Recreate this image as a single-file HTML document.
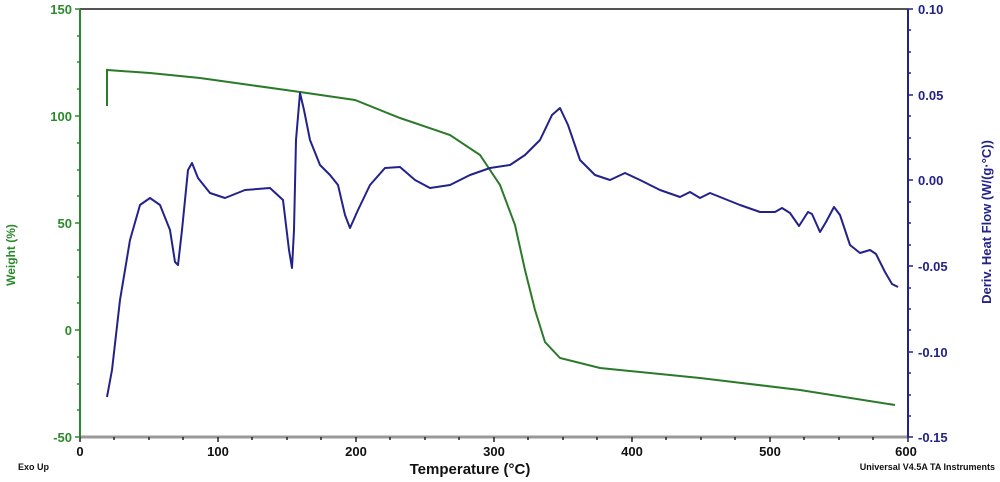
<!DOCTYPE html>
<html><head><style>body{margin:0;background:#fff}svg{display:block}</style></head><body>
<svg width="1000" height="482" viewBox="0 0 1000 482" font-family="Liberation Sans, sans-serif" font-weight="bold">
<line x1="80" y1="9" x2="908" y2="9" stroke="#555" stroke-width="2"/>
<line x1="80" y1="437" x2="908" y2="437" stroke="#999" stroke-width="3"/>
<line x1="80" y1="9" x2="80" y2="437" stroke="#2a8a2a" stroke-width="2"/>
<line x1="908" y1="9" x2="908" y2="437" stroke="#22228a" stroke-width="2"/>
<g stroke="#222" stroke-width="1.5">
<path d="M80,437v5M114,437v3M149,437v3M183,437v3M218,437v5M252,437v3M287,437v3M321,437v3M356,437v5M390,437v3M425,437v3M459,437v3M494,437v5M528,437v3M563,437v3M597,437v3M632,437v5M666,437v3M701,437v3M735,437v3M770,437v5M804,437v3M839,437v3M873,437v3M908,437v5"/>
</g>
<g stroke="#2a8a2a" stroke-width="1.5"><path d="M80,9h-5M80,116h-5M80,223h-5M80,330h-5M80,437h-5M80,36h-3M80,62h-3M80,89h-3M80,143h-3M80,170h-3M80,196h-3M80,250h-3M80,277h-3M80,303h-3M80,357h-3M80,384h-3M80,410h-3"/></g>
<g stroke="#22228a" stroke-width="1.5"><path d="M908,9h5M908,95h5M908,180h5M908,266h5M908,352h5M908,437h5M908,30h3M908,52h3M908,73h3M908,116h3M908,138h3M908,159h3M908,202h3M908,223h3M908,245h3M908,288h3M908,309h3M908,330h3M908,373h3M908,395h3M908,416h3"/></g>
<g fill="#2a8a2a" font-size="13" text-anchor="end">
<text x="72" y="14">150</text><text x="72" y="121">100</text><text x="72" y="228">50</text><text x="72" y="335">0</text><text x="72" y="442">-50</text>
</g>
<g fill="#22228a" font-size="13">
<text x="918" y="14">0.10</text><text x="918" y="100">0.05</text><text x="918" y="185">0.00</text><text x="918" y="271">-0.05</text><text x="918" y="357">-0.10</text><text x="918" y="442">-0.15</text>
</g>
<g fill="#111" font-size="13" text-anchor="middle">
<text x="80" y="456">0</text><text x="218" y="456">100</text><text x="356" y="456">200</text><text x="494" y="456">300</text><text x="632" y="456">400</text><text x="770" y="456">500</text><text x="906" y="456">600</text>
</g>
<text x="470" y="474" font-size="15" fill="#111" text-anchor="middle">Temperature (°C)</text>
<text x="18" y="470" font-size="9" fill="#111">Exo Up</text>
<text x="995" y="470" font-size="9" fill="#111" text-anchor="end">Universal V4.5A TA Instruments</text>
<text transform="translate(15,255) rotate(-90)" font-size="12" fill="#2a8a2a" text-anchor="middle">Weight (%)</text>
<text transform="translate(991,222) rotate(-90)" font-size="13" fill="#22228a" text-anchor="middle">Deriv. Heat Flow (W/(g·°C))</text>
<path fill="none" stroke="#2a7a2a" stroke-width="2" d="M107,106L107,70L150,73L200,78L250,85L300,92L355,100L400,118L450,135L480,155L500,185L515,225L525,270L535,310L545,342L560,358L600,368L700,378L800,390L895,405"/>
<path fill="none" stroke="#22228a" stroke-width="2" stroke-linejoin="round" d="M107,397L112,370L120,300L130,240L140,205L150,198L160,205L170,230L175,262L178,265L182,230L188,170L192,163L198,178L210,193L225,198L245,190L270,188L283,200L289,250L292,268L294,230L296,140L300,93L304,110L310,140L320,165L330,175L338,185L345,215L350,228L358,210L370,185L385,168L400,167L415,180L430,188L450,185L470,175L490,168L510,165L525,155L540,140L552,115L560,108L568,125L580,160L595,175L610,180L625,173L640,180L660,190L680,197L690,192L700,198L710,193L720,197L740,205L760,212L775,212L782,208L790,213L799,226L808,212L812,214L820,232L826,222L834,207L840,215L850,245L860,253L870,250L876,254L885,272L892,284L898,287"/>
</svg>
</body></html>
